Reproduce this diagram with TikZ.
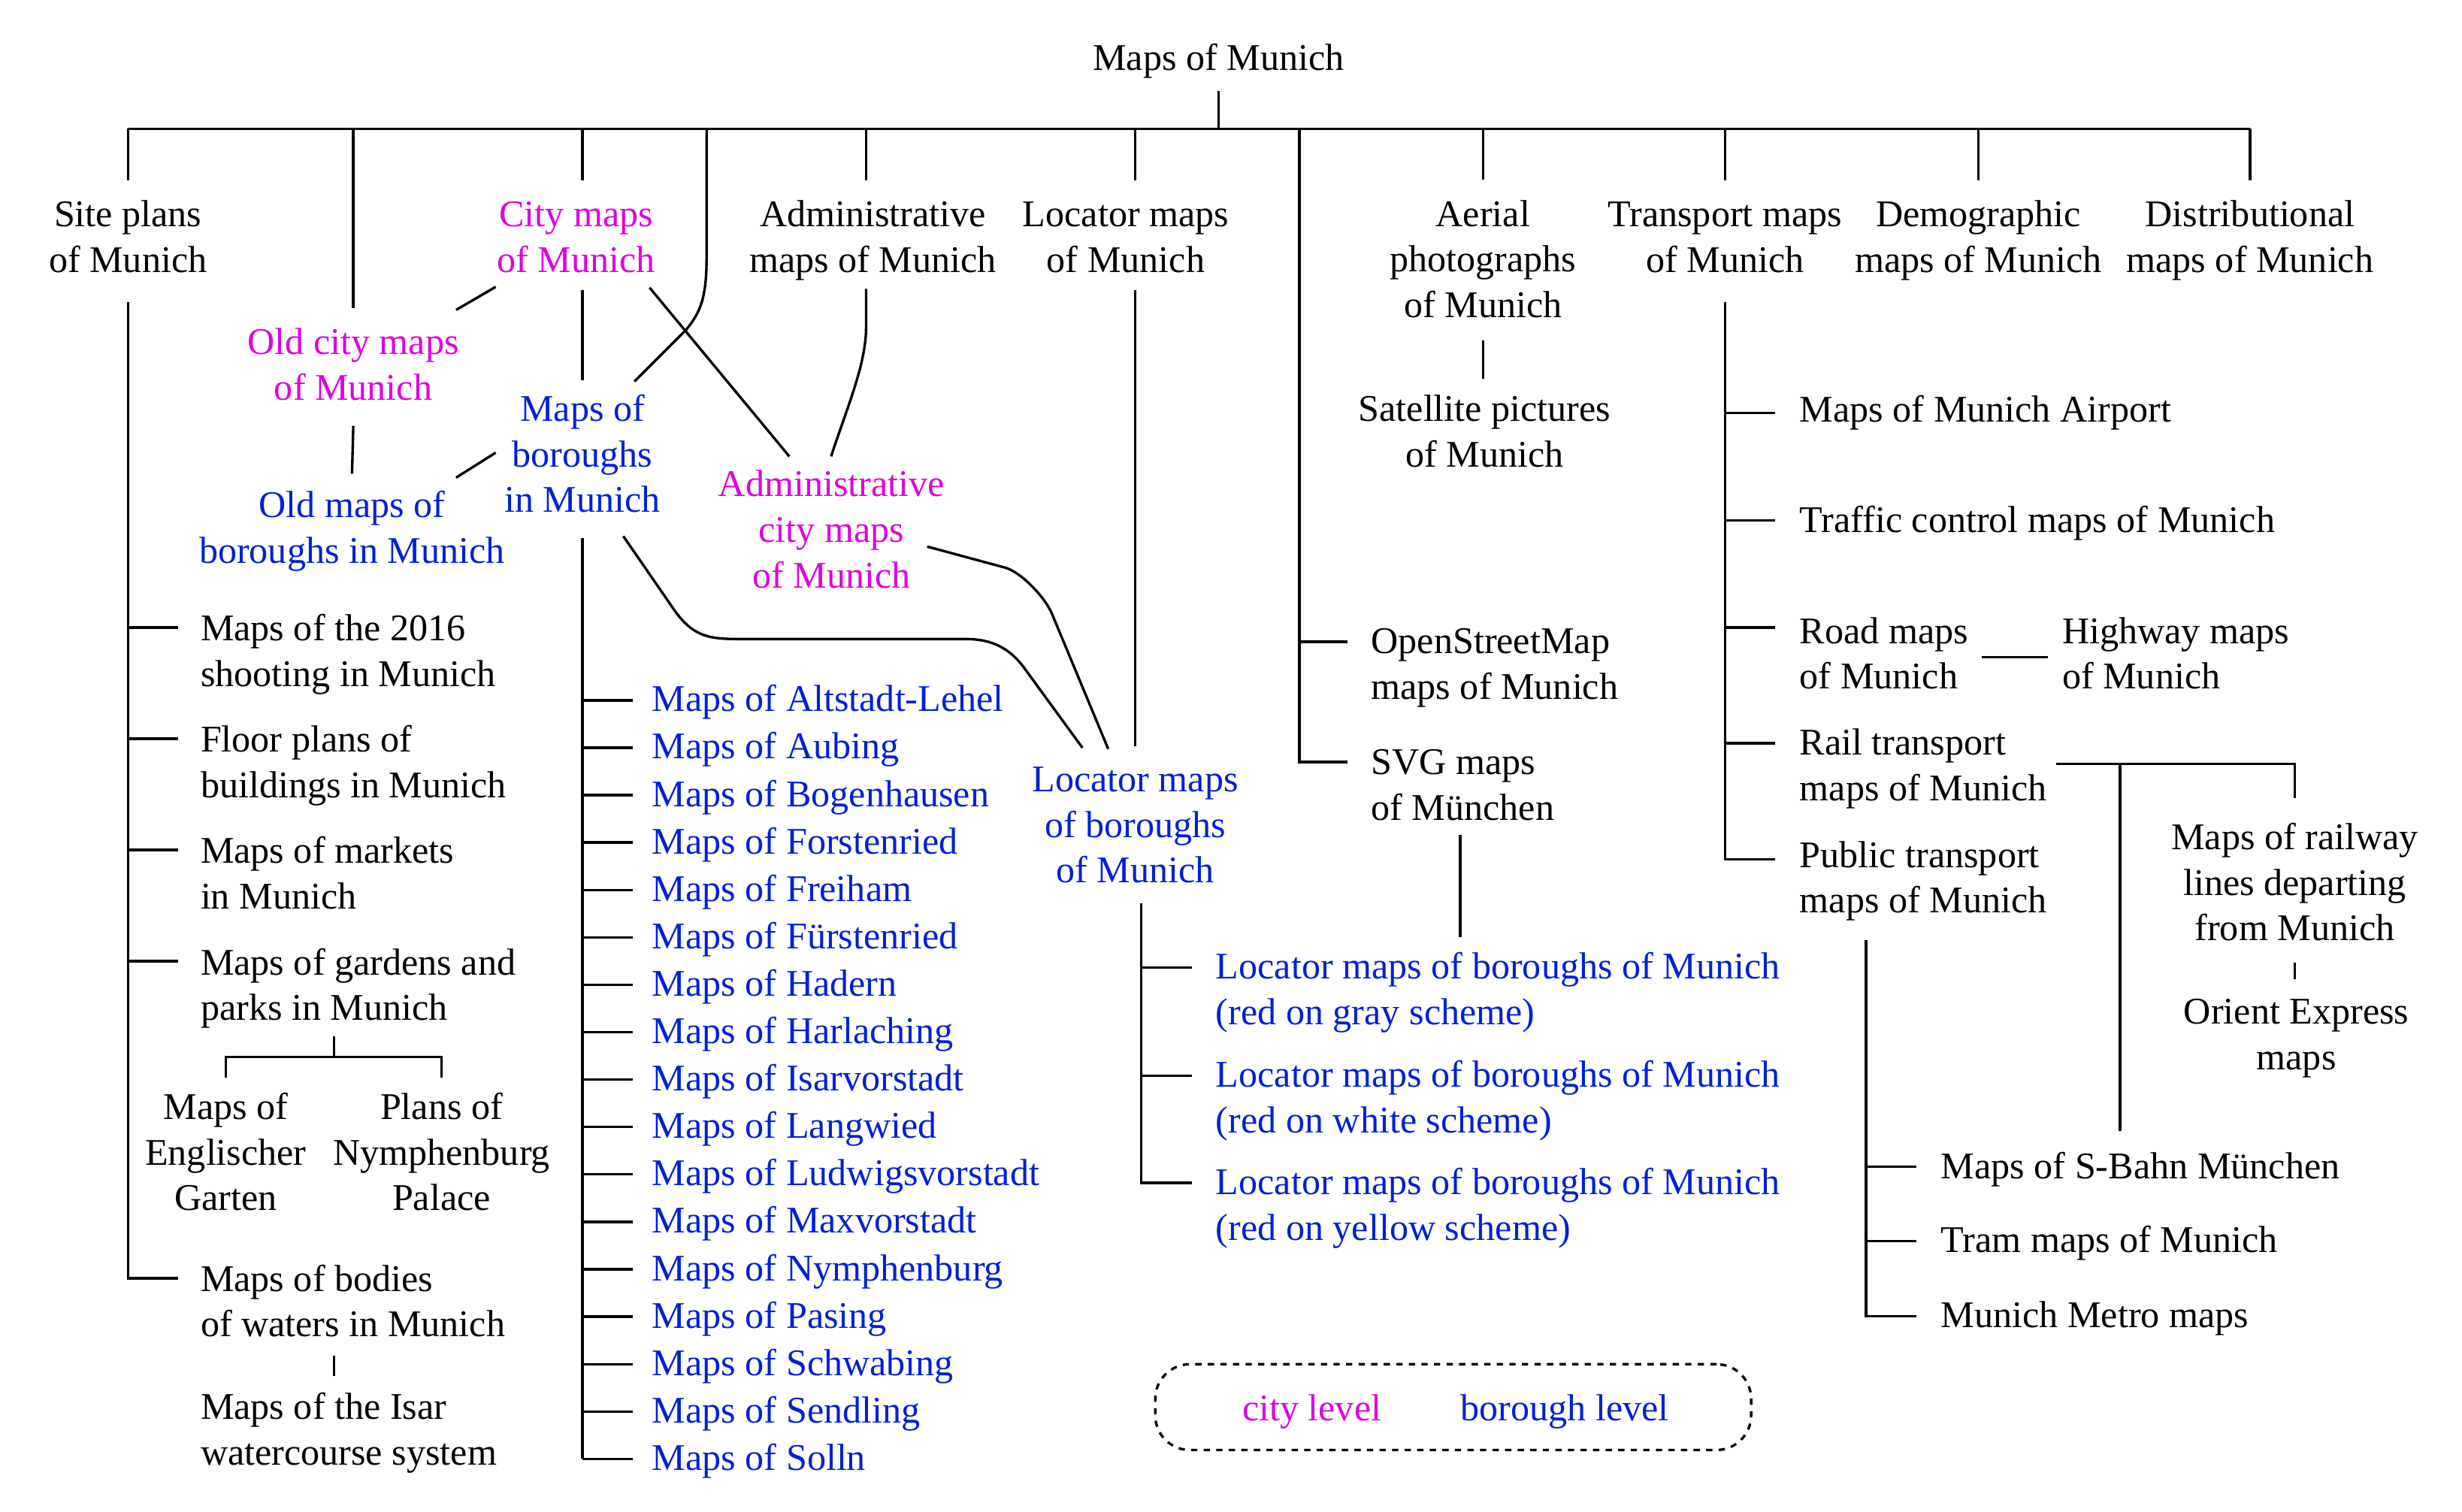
\documentclass[tikz,border=0pt]{standalone}
\usepackage{fontspec}
\setmainfont{Liberation Serif}
\usetikzlibrary{calc}
\definecolor{citymag}{RGB}{222,0,222}
\definecolor{borblue}{RGB}{0,32,212}
\newcommand{\fs}{\fontsize{24}{29}\selectfont}

\begin{document}
\begin{tikzpicture}[
  x=1pt, y=-1pt, line width=1.6pt,
  lbl/.style={font=\fs, inner sep=0pt, align=center,
              text height=20.3pt, text depth=8.7pt},
  two/.style={text height=49.3pt},
  three/.style={text height=78.3pt},
  lft/.style={lbl, align=left, anchor=west},
  citylvl/.style={text=citymag},
  borlvl/.style={text=borblue}]
  \useasboundingbox (0,0) rectangle (1568,963);

  % top row
  \node[lbl] (root) at (776,39) {Maps of Munich};
  \node[lbl, two] (site) at (81.5,153) {Site plans\\of Munich};
  \node[lbl, two, citylvl] (city) at (367,153) {City maps\\of Munich};
  \node[lbl, two] (admin) at (556,153) {Administrative\\maps of Munich};
  \node[lbl, two] (loc) at (717,153) {Locator maps\\of Munich};
  \node[lbl, three] (aerial) at (944.5,167.4) {Aerial\\photographs\\of Munich};
  \node[lbl, two] (transport) at (1098.6,153) {Transport maps\\of Munich};
  \node[lbl, two] (demo) at (1260,153) {Demographic\\maps of Munich};
  \node[lbl, two] (distrib) at (1433,153) {Distributional\\maps of Munich};

  % city / borough level
  \node[lbl, two, citylvl] (oldcity) at (225,234.6) {Old city maps\\of Munich};
  \node[lbl, three, borlvl] (boroughs) at (371,291.5) {Maps of\\boroughs\\in Munich};
  \node[lbl, two, borlvl] (oldboroughs) at (224.2,338.4) {Old maps of\\boroughs in Munich};
  \node[lbl, three, citylvl] (admincity) at (529.5,339.5) {Administrative\\city maps\\of Munich};
  \node[lbl, two] (satellite) at (945.5,277.2) {Satellite pictures\\of Munich};
  \node[lbl, three, borlvl] (locb) at (723,527.5) {Locator maps\\of boroughs\\of Munich};

  % site plans
  \node[lft, two] (shoot) at (127,416.9) {Maps of the 2016\\shooting in Munich};
  \node[lft, two] (floor) at (127,487.8) {Floor plans of\\buildings in Munich};
  \node[lft, two] (markets) at (127,558.6) {Maps of markets\\in Munich};
  \node[lft, two] (gardens) at (127,629.5) {Maps of gardens and\\parks in Munich};
  \node[lbl, three] (englischer) at (143.8,736.1) {Maps of\\Englischer\\Garten};
  \node[lbl, three] (nymph) at (281.2,736.1) {Plans of\\Nymphenburg\\Palace};
  \node[lft, two] (bodies) at (127,831.1) {Maps of bodies\\of waters in Munich};
  \node[lft, two] (isar) at (127,912.6) {Maps of the Isar\\watercourse system};

  % locator and svg
  \node[lft, two] (osm) at (872.5,424.9) {OpenStreetMap\\maps of Munich};
  \node[lft, two] (svg) at (872.5,501.9) {SVG maps\\of München};
  \node[lft, two, borlvl] (lgray) at (773.6,632.3) {Locator maps of boroughs of Munich\\(red on gray scheme)};
  \node[lft, two, borlvl] (lwhite) at (773.6,701.2) {Locator maps of boroughs of Munich\\(red on white scheme)};
  \node[lft, two, borlvl] (lyellow) at (773.6,769.5) {Locator maps of boroughs of Munich\\(red on yellow scheme)};

  % transport
  \node[lft] (airport) at (1145.4,262.9) {Maps of Munich Airport};
  \node[lft] (traffic) at (1145.4,333.3) {Traffic control maps of Munich};
  \node[lft, two] (road) at (1145.4,418.5) {Road maps\\of Munich};
  \node[lft, two] (highway) at (1312.6,418.5) {Highway maps\\of Munich};
  \node[lft, two] (rail) at (1145.4,489.6) {Rail transport\\maps of Munich};
  \node[lft, two] (public) at (1145.4,561.2) {Public transport\\maps of Munich};
  \node[lbl, three] (railway) at (1461.5,564.4) {Maps of railway\\lines departing\\from Munich};
  \node[lbl, two] (orient) at (1462.5,660.9) {Orient Express\\maps};
  \node[lft] (sbahn) at (1235.4,744.7) {Maps of S-Bahn München};
  \node[lft] (tram) at (1235.4,792) {Tram maps of Munich};
  \node[lft] (metro) at (1235.4,839.7) {Munich Metro maps};

  % legend
  \node[draw, dash pattern=on 4pt off 4pt, rounded corners=22pt, inner sep=0pt,
        minimum width=379.5pt, minimum height=54.6pt] (legend) at (925.5,896.2) {};
  \node[lbl, citylvl] (citykey) at (835.5,898.9) {city level};
  \node[lbl, borlvl] (borkey) at (996.5,898.9) {borough level};

  % top bar
  \coordinate (j) at ($(root)+(0,43)$);
  \draw ($(root)+(0,19)$) -- (j);
  \draw (site |- j) -- (distrib |- j);
  \foreach \n in {site,oldcity,aerial,transport,demo,distrib}
    \draw (\n |- j) -- ([yshift=8.5pt]\n.north);
  \draw (boroughs |- j) -- ([yshift=8.5pt]boroughs |- city.north);
  \draw ([xshift=-4.4pt]admin |- j) -- ([xshift=-4.4pt,yshift=8.5pt]admin.north);
  \draw (locb |- j) -- ([yshift=8.5pt]locb |- loc.north);
  \draw ([xshift=79pt]boroughs |- j) -- (450,164) .. controls (450,190) and (446,199) .. (437,210)
    -- ($(boroughs)+(33,-48.5)$);

  % city maps
  \draw ($(city)+(-51.3,29.7)$) -- ($(oldcity)+(65.5,-37.2)$);
  \draw ([yshift=-2pt]boroughs |- city.south) -- ([yshift=4.9pt]boroughs.north);
  \draw ($(city)+(46.7,30.2)$) -- ($(admincity)+(-26.8,-48.8)$);
  \draw ($(oldcity)+(0,36.6)$) -- ($(oldboroughs)+(0,-36.7)$);
  \draw ($(boroughs)+(-55.3,-3.2)$) -- ($(oldboroughs)+(66.3,-34.2)$);
  \draw ($(admin)+(-4.4,31)$) -- (551.6,208) .. controls (551.6,232) and (540,258) ..
    ($(admincity)+(-0.2,-48.8)$);

  % into locator maps of boroughs
  \draw ($(boroughs)+(26,50)$) -- (427,385) .. controls (440,405) and (450,407) .. (470,407)
    -- (615,407) .. controls (632,407) and (643,413) .. (652,425) -- ($(locb)+(-33.6,-51.2)$);
  \draw ($(admincity)+(61,8.6)$) -- (640,361.5) .. controls (650,364.2) and (665.4,380) .. (670,391)
    -- ($(locb)+(-17.2,-50.5)$);
  \draw ([yshift=-2pt]locb |- loc.south) -- ([yshift=7.7pt]locb.north);

  % boroughs list
  \foreach \b [count=\i] in {Altstadt-Lehel,Aubing,Bogenhausen,Forstenried,Freiham,
      Fürstenried,Hadern,Harlaching,Isarvorstadt,Langwied,Ludwigsvorstadt,Maxvorstadt,
      Nymphenburg,Pasing,Schwabing,Sendling,Solln} {
    \node[lft, borlvl] (b\i) at (414.6,{447.4+30.2*(\i-1)}) {Maps of \b};
    \draw ([yshift=1.4pt]b\i.west -| boroughs) -- ([xshift=-11.6pt,yshift=1.4pt]b\i.west);
  }
  \draw ([yshift=-7pt]boroughs.south) -- ([yshift=1.4pt]b17.west -| boroughs);

  % site plans tree
  \draw ([yshift=-9.7pt]site.south) |- ([xshift=-13.7pt,yshift=17pt]bodies.west);
  \foreach \n in {shoot,floor,markets,gardens}
    \draw ([yshift=17.3pt]\n.west -| site) -- ([xshift=-13.7pt,yshift=17.3pt]\n.west);
  \draw ($(gardens.west)+(85.8,30.6)$) -- ($(gardens.west)+(85.8,43.8)$) coordinate (gj);
  \draw ([yshift=5.3pt]englischer.north) |- (gj) -| ([yshift=5.3pt]nymph.north);
  \draw ($(bodies.west)+(85.8,32.3)$) -- ($(isar.west)+(85.8,-36.4)$);

  % osm and svg
  \draw ([xshift=-45pt]svg.west |- j) |- ([xshift=-14.5pt,yshift=16.6pt]svg.west);
  \draw ([xshift=-45pt,yshift=16.1pt]osm.west) -- ([xshift=-14.5pt,yshift=16.1pt]osm.west);
  \draw ($(svg.west)+(57.5,29.8)$) -- ($(lgray.west)+(156.4,-35.5)$);

  % locator schemes
  \coordinate (lt) at ([xshift=3.7pt,yshift=-3.3pt]locb.south);
  \draw (lt) |- ([xshift=-14.6pt,yshift=16.2pt]lyellow.west);
  \foreach \n in {lgray,lwhite}
    \draw ([yshift=16.2pt]\n.west -| lt) -- ([xshift=-14.6pt,yshift=16.2pt]\n.west);

  % aerial
  \draw ([yshift=-5.3pt]aerial.south) -- ([yshift=6.3pt]aerial.south |- satellite.north);

  % transport tree
  \draw ([yshift=-9.7pt]transport.south) |- ([xshift=-15.1pt,yshift=13.9pt]public.west);
  \foreach \n/\d in {airport/0pt,traffic/1.8pt,road/18.9pt,rail/16.2pt}
    \draw ([yshift=\d]\n.west -| transport) -- ([xshift=-15.1pt,yshift=\d]\n.west);
  \draw ([xshift=8pt]road.east) -- ([xshift=-8.2pt]highway.west);
  \draw ([xshift=5pt,yshift=3pt]rail.east) -| ([yshift=11.9pt]railway.north);
  \draw ([xshift=5pt,yshift=3pt]rail.east) -| ([xshift=-13pt,yshift=8.9pt]sbahn.north);
  \draw ([yshift=-4.2pt]railway.south) -- ([yshift=7.3pt]railway.south |- orient.north);
  \coordinate (pt) at ($(public.west)+(43,37.5)$);
  \draw (pt) |- ([xshift=-14.8pt,yshift=1.5pt]metro.west);
  \foreach \n in {sbahn,tram}
    \draw ([yshift=1.5pt]\n.west -| pt) -- ([xshift=-14.8pt,yshift=1.5pt]\n.west);
\end{tikzpicture}
\end{document}
